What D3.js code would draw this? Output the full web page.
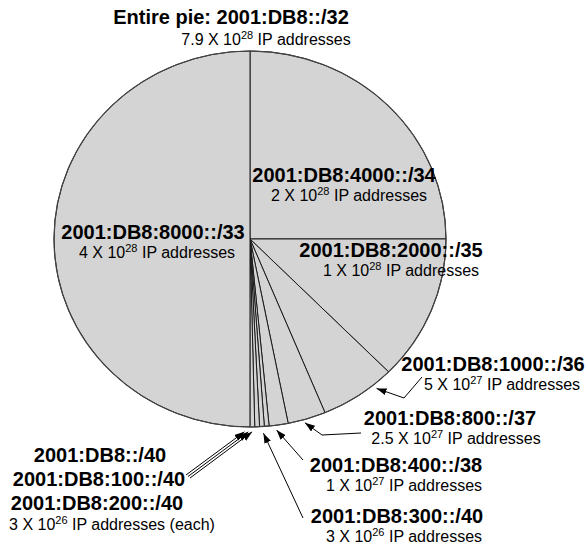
<!DOCTYPE html>
<html>
<head>
<meta charset="utf-8">
<script src="https://cdn.jsdelivr.net/npm/d3@7/dist/d3.min.js"></script>
<style>
  html, body { margin: 0; padding: 0; background: #fff; }
  svg { display: block; font-family: "Liberation Sans", Arial, Helvetica, sans-serif; }
</style>
</head>
<body>
<div id="chart"></div>
<script>
// Slices, clockwise from 12 o'clock
const prefixes = [
    "2001:DB8:4000::/34", "2001:DB8:2000::/35", "2001:DB8:1000::/36",
    "2001:DB8:800::/37", "2001:DB8:400::/38", "2001:DB8:300::/40",
    "2001:DB8:200::/40", "2001:DB8:100::/40", "2001:DB8::/40",
    "2001:DB8:8000::/33"
];
// number of IP addresses in each prefix
const addressCounts = [1.98e28, 9.9e27, 4.95e27, 2.48e27, 1.24e27, 3.09e26, 3.09e26, 3.09e26, 3.09e26, 3.96e28];
// rounded figures as printed on the labels
const countMantissas = ["2", "1", "5", "2.5", "1", "3", "3", "3", "3", "4"];
const countExponents = [28, 28, 27, 27, 27, 26, 26, 26, 26, 28];

const titleText = "Entire pie: 2001:DB8::/32";
const totalMantissa = "7.9";
const totalExponent = 28;

// Label placement (layout only)
const labelLayout = [
    { slice: 0, x: 344, y: 181.5, x2: 349, y2: 200.5 },
    { slice: 1, x: 391, y: 256.5, x2: 401, y2: 275.5 },
    { slice: 9, x: 153, y: 238.5, x2: 157, y2: 257.5 },
    { slice: 2, x: 493, y: 370.5, x2: 502, y2: 390, leader: [[422, 377], [404, 398]], tipDeg: 140.9, tipK: 1.024 },
    { slice: 3, x: 450, y: 425, x2: 456, y2: 444, leader: [[361, 433], [322, 435]], tipDeg: 164, tipK: 1.017 },
    { slice: 4, x: 396, y: 471.5, x2: 404, y2: 490.5, leader: [[303, 460]], tipDeg: 172.4, tipK: 1.025 },
    { slice: 5, x: 397, y: 523, x2: 404, y2: 542, leader: [[303, 518]], tipDeg: 176.2, tipK: 1.035 },
    { slice: 8, x: 100, y: 462, leader: [[186, 475]], tipDeg: 181.6, tipK: 1.026 },
    { slice: 7, x: 99, y: 486, leader: [[188, 476.5]], tipDeg: 180.5, tipK: 1.026 },
    { slice: 6, x: 97, y: 510, x2: 112, y2: 529.5, each: true, leader: [[190, 478]], tipDeg: 179.4, tipK: 1.026 }
];

const width = 586, height = 546;
const cx = 250, cy = 239, rx = 196, ry = 188;

const svg = d3.select("#chart").append("svg")
    .attr("width", width)
    .attr("height", height);

svg.append("defs").append("marker")
    .attr("id", "arrow")
    .attr("markerUnits", "userSpaceOnUse")
    .attr("markerWidth", 11)
    .attr("markerHeight", 8)
    .attr("refX", 10)
    .attr("refY", 3.5)
    .attr("orient", "auto")
    .append("path")
    .attr("d", "M0,0 L10,3.5 L0,7 Z")
    .attr("fill", "#000");

// Pie (slightly oval, as in the original drawing)
const pie = d3.pie().sort(null).value(d => d)
    .startAngle(0).endAngle(2 * Math.PI);
const arcs = pie(addressCounts);
const arc = d3.arc().innerRadius(0).outerRadius(rx);

const pieG = svg.append("g")
    .attr("transform", `translate(${cx},${cy}) scale(1,${ry / rx})`);

pieG.selectAll("path")
    .data(arcs)
    .join("path")
    .attr("d", arc)
    .attr("fill", "#d4d4d4")
    .attr("stroke", "#1a1a1a")
    .attr("stroke-width", 1)
    .attr("vector-effect", "non-scaling-stroke");

// rim outline a touch greyer
pieG.append("ellipse")
    .attr("rx", rx).attr("ry", rx)
    .attr("fill", "none")
    .attr("stroke", "#444")
    .attr("stroke-width", 1.2)
    .attr("vector-effect", "non-scaling-stroke");

function rimPoint(deg, k) {
    const a = deg * Math.PI / 180;
    return [cx + rx * k * Math.sin(a), cy - ry * k * Math.cos(a)];
}

// Leaders
labelLayout.filter(d => d.leader).forEach(d => {
    const pts = d.leader.concat([rimPoint(d.tipDeg, d.tipK)]);
    svg.append("path")
        .attr("d", d3.line()(pts))
        .attr("fill", "none")
        .attr("stroke", "#000")
        .attr("stroke-width", 1)
        .attr("marker-end", "url(#arrow)");
});

function countText(sel, mantissa, exponent, suffix) {
    sel.append("tspan").text(`${mantissa} X 10`);
    sel.append("tspan").attr("font-size", 11).attr("dy", -6).text(exponent);
    sel.append("tspan").attr("dy", 6).text(" IP addresses" + (suffix || ""));
}

// Title
svg.append("text")
    .attr("x", 231).attr("y", 24)
    .attr("text-anchor", "middle")
    .attr("font-size", 20).attr("font-weight", "bold")
    .text(titleText);
svg.append("text")
    .attr("x", 266).attr("y", 45)
    .attr("text-anchor", "middle")
    .attr("font-size", 16)
    .call(countText, totalMantissa, totalExponent);

// Slice labels
labelLayout.forEach(d => {
    svg.append("text")
        .attr("x", d.x).attr("y", d.y)
        .attr("text-anchor", "middle")
        .attr("font-size", 20).attr("font-weight", "bold")
        .attr("fill", "#000")
        .text(prefixes[d.slice]);
    if (d.x2 !== undefined) {
        svg.append("text")
            .attr("x", d.x2).attr("y", d.y2)
            .attr("text-anchor", "middle")
            .attr("font-size", 16)
            .attr("fill", "#000")
            .call(countText, countMantissas[d.slice], countExponents[d.slice], d.each ? " (each)" : "");
    }
});
</script>
</body>
</html>
